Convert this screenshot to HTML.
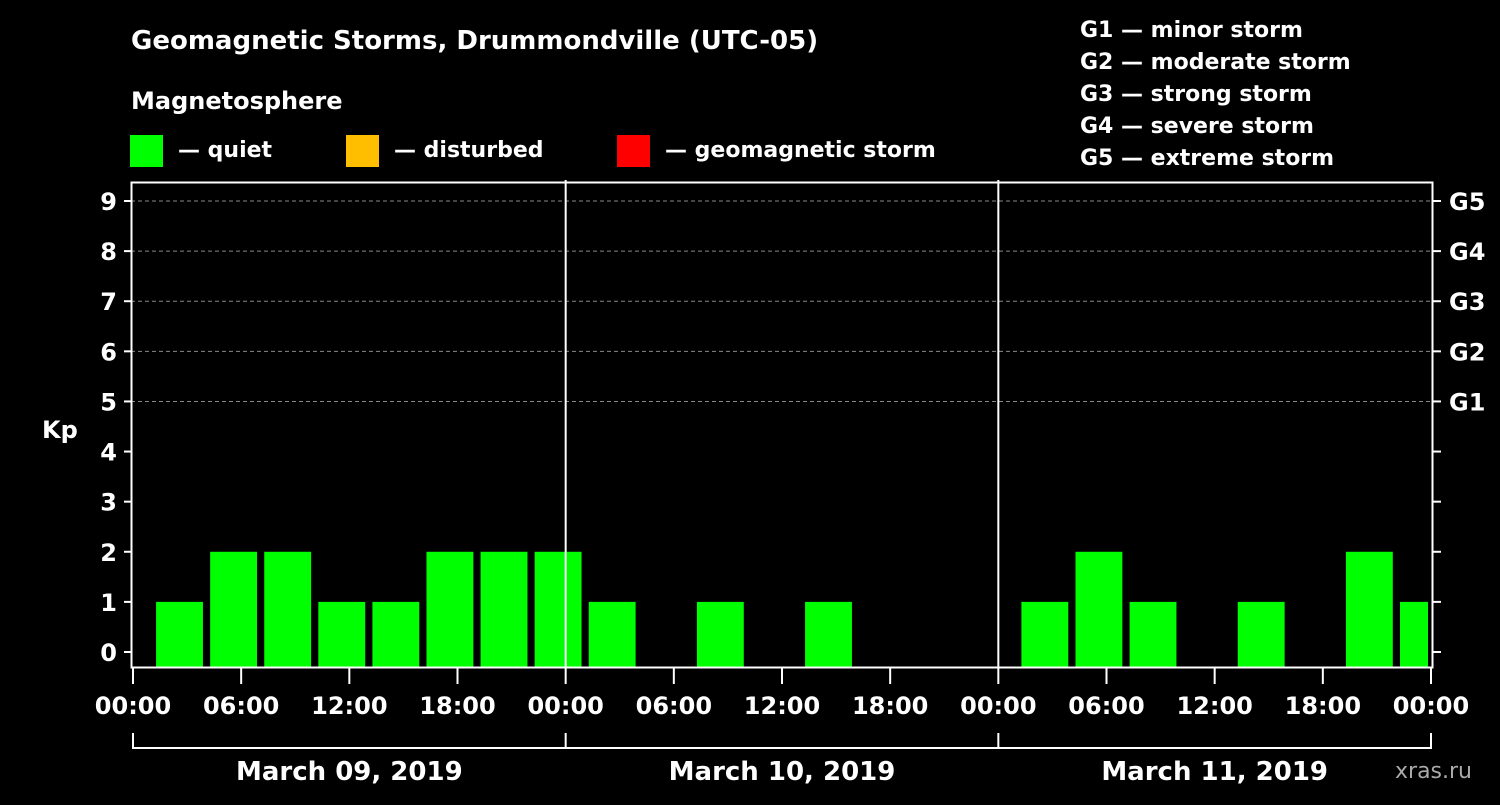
<!DOCTYPE html>
<html><head><meta charset="utf-8"><style>
body{margin:0;background:#000;width:1500px;height:800px;overflow:hidden}
svg text{font-family:"DejaVu Sans","Liberation Sans",sans-serif;font-weight:bold;fill:#fff}
</style></head><body>
<svg id="c" width="1500" height="800">
<text x="131" y="49" font-size="26">Geomagnetic Storms, Drummondville (UTC-05)</text>
<text x="131" y="109" font-size="24">Magnetosphere</text>
<g><rect x="130" y="135" width="33" height="32" fill="#00ff00"/><text x="178" y="157" font-size="22">— quiet</text></g>
<g><rect x="346" y="135" width="33" height="32" fill="#ffbf00"/><text x="394" y="157" font-size="22">— disturbed</text></g>
<g><rect x="617" y="135" width="33" height="32" fill="#ff0000"/><text x="665" y="157" font-size="22">— geomagnetic storm</text></g>
<g font-size="22">
<text x="1080" y="37">G1 — minor storm</text><text x="1080" y="69">G2 — moderate storm</text><text x="1080" y="101">G3 — strong storm</text><text x="1080" y="133">G4 — severe storm</text><text x="1080" y="165">G5 — extreme storm</text></g>
<text x="42" y="438" font-size="24">Kp</text>
<text x="1395" y="778" font-size="22" style="fill:#aaa;font-weight:normal">xras.ru</text>
<g id="plot"></g>
</svg>
<script>
const startHours=[1.28,4.28,7.28,10.28,13.28,16.28,19.28,22.28,25.28,28.28,31.28,34.28,37.28,40.28,43.28,46.28,49.28,52.28,55.28,58.28,61.28,64.28,67.28,70.28];
const kpValues=[1,2,2,1,1,2,2,2,1,0,1,0,1,0,0,0,1,2,1,0,1,0,2,1];
const hourLabels=["00:00","06:00","12:00","18:00","00:00","06:00","12:00","18:00","00:00","06:00","12:00","18:00","00:00"];
const dayLabels=["March 09, 2019","March 10, 2019","March 11, 2019"];
const gLabels=["G1","G2","G3","G4","G5"];
const NS="http://www.w3.org/2000/svg";
const X0=133,X1=1431,Y0=652,Y9=201;
const x=h=>X0+(X1-X0)*h/72;
const y=k=>Y0+(Y9-Y0)*k/9;
const g=document.getElementById('plot');
function mk(t,a,p){const e=document.createElementNS(NS,t);for(const k in a)e.setAttribute(k,a[k]);(p||g).appendChild(e);return e;}
for(let k=5;k<=9;k++){const l=mk('line',{x1:131,x2:1433,y1:y(k),y2:y(k),stroke:'#888','stroke-dasharray':'4,3'});

}
kpValues.forEach((v,i)=>{if(v<=0)return;const x1=x(startHours[i]);const x2=Math.min(x(startHours[i]+2.6),1428);
const r=mk('rect',{x:x1,y:y(v),width:x2-x1,height:y(0)-y(v)+16,fill:v>=5?'#ff0000':v>=4?'#ffbf00':'#00ff00'});

});
mk('rect',{x:0,y:668,width:1500,height:14,fill:'#000'});
const box=mk('rect',{x:131.5,y:182.5,width:1301,height:485,fill:'none',stroke:'#fff','stroke-width':2});


[1,2].forEach(d=>{const l=mk('line',{x1:x(24*d),x2:x(24*d),y1:180,y2:668,stroke:'#fff','stroke-width':2});

});
for(let k=0;k<=9;k++){
mk('line',{x1:124,x2:132,y1:y(k),y2:y(k),stroke:'#fff','stroke-width':2});
mk('line',{x1:1432,x2:1441,y1:y(k),y2:y(k),stroke:'#fff','stroke-width':2});
const t=mk('text',{x:117,y:y(k)+9,'font-size':24,'text-anchor':'end'});t.textContent=k;

}
gLabels.forEach((s,i)=>{const t=mk('text',{x:1449,y:y(5+i)+9,'font-size':24});t.textContent=s;

});
hourLabels.forEach((s,i)=>{const xx=x(6*i);mk('line',{x1:xx,x2:xx,y1:668,y2:684,stroke:'#fff','stroke-width':2});
const t=mk('text',{x:xx,y:714,'font-size':24,'text-anchor':'middle'});t.textContent=s;

});
mk('line',{x1:x(0),x2:x(72),y1:748,y2:748,stroke:'#fff','stroke-width':2});
for(let d=0;d<=3;d++)mk('line',{x1:x(24*d),x2:x(24*d),y1:733,y2:749,stroke:'#fff','stroke-width':2});
dayLabels.forEach((s,i)=>{const t=mk('text',{x:x(24*i+12),y:780,'font-size':26,'text-anchor':'middle'});t.textContent=s;

});
</script>
</body></html>
